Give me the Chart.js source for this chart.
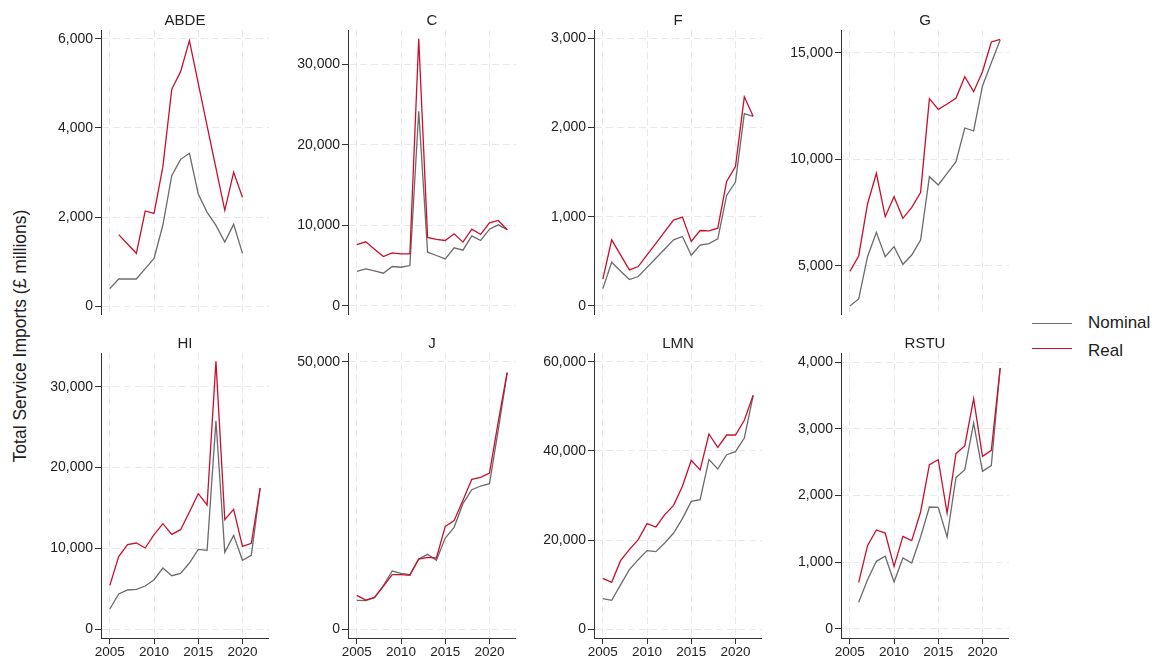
<!DOCTYPE html>
<html><head><meta charset="utf-8">
<script src="https://cdn.jsdelivr.net/npm/chart.js@4/dist/chart.umd.min.js"></script>
<style>
html,body{margin:0;padding:0;background:#fff;width:1158px;height:661px;overflow:hidden;font-family:'Liberation Sans',Arial,sans-serif;}
canvas{position:absolute;}
#ytitle{position:absolute;left:20px;top:336px;transform:translate(-50%,-50%) rotate(-90deg);white-space:nowrap;font-size:17.5px;color:#222;}
.leg{position:absolute;font-size:17px;line-height:20px;color:#222;white-space:nowrap;}
.sw{position:absolute;width:40px;height:1.4px;}
</style></head><body>
<div id="ytitle">Total Service Imports (£ millions)</div>
<div class="sw" style="left:1032px;top:322.5px;background:#6b6b6b"></div>
<div class="leg" style="left:1088px;top:313px">Nominal</div>
<div class="sw" style="left:1032px;top:348px;background:#c8102e"></div>
<div class="leg" style="left:1088px;top:341px">Real</div>
<script>
const years = [2005,2006,2007,2008,2009,2010,2011,2012,2013,2014,2015,2016,2017,2018,2019,2020,2021,2022];
const xTicks = [2005,2010,2015,2020];
const seriesNames = ['Nominal','Real'];
const panelNames = ['ABDE','C','F','G','HI','J','LMN','RSTU'];

const abdeNominal = [390,607,607,607,840,1071,1820,2929,3296,3431,2517,2105,1813,1438,1835,1184,null,null];
const abdeReal    = [null,1603,1393,1184,2135,2082,3131,4869,5266,5963,5000,4050,3100,2150,3004,2442,null,null];
const cNominal    = [4300,4600,4360,4070,4900,4810,5020,24190,6680,6270,5850,7220,6930,8710,8130,9540,10080,9460];
const cReal       = [7630,7970,7050,6140,6600,6470,6470,33190,8510,8260,8130,8960,7930,9540,8880,10330,10620,9460];
const fNominal    = [195,491,393,296,330,433,536,639,742,779,569,682,700,753,1240,1390,2157,2127];
const fReal       = [300,742,573,404,442,572,703,833,963,996,723,846,843,873,1397,1562,2345,2127];
const gNominal    = [3103,3433,5423,6567,5423,5893,5063,5502,6207,9185,8793,9342,9890,11473,11332,13448,14545,15611];
const gReal       = [4734,5455,7900,9342,7304,8245,7226,7743,8433,12853,12351,12602,12868,13887,13182,14122,15517,15643];
const hiNominal   = [2476,4333,4829,4911,5324,6108,7553,6603,6892,8172,9864,9740,25794,9492,11597,8502,9121,17458];
const hiReal      = [5406,8956,10442,10648,10029,11680,13042,11721,12299,14486,16756,15353,33140,13537,14816,10235,10607,17458];
const jNominal    = [5368,5306,5868,8115,10861,10424,10175,13109,13983,12859,17041,19039,23471,26092,26779,27216,37328,47940];
const jReal       = [6305,5431,5930,7990,10175,10175,10050,13109,13421,13296,19226,20287,24095,28027,28402,29213,38889,48065];
const lmnNominal  = [6816,6442,9900,13333,15580,17603,17378,19326,21573,24794,28689,29064,38052,35955,39176,39850,42921,52434];
const lmnReal     = [11386,10487,15356,17828,20075,23670,22921,25693,27790,32060,37903,35730,43820,40824,43596,43596,46891,52509];
const rstuNominal = [null,400,739,1014,1089,704,1064,989,1378,1828,1823,1378,2267,2387,3086,2362,2447,3910];
const rstuReal    = [null,699,1248,1483,1438,939,1388,1323,1753,2462,2537,1738,2627,2747,3451,2587,2677,3910];

const abdeTicks = [0,2000,4000,6000];
const cTicks    = [0,10000,20000,30000];
const fTicks    = [0,1000,2000,3000];
const gTicks    = [5000,10000,15000];
const hiTicks   = [0,10000,20000,30000];
const jTicks    = [0,50000];
const lmnTicks  = [0,20000,40000,60000];
const rstuTicks = [0,1000,2000,3000,4000];

const nominalSeries = [abdeNominal,cNominal,fNominal,gNominal,hiNominal,jNominal,lmnNominal,rstuNominal];
const realSeries    = [abdeReal,cReal,fReal,gReal,hiReal,jReal,lmnReal,rstuReal];
const tickSets      = [abdeTicks,cTicks,fTicks,gTicks,hiTicks,jTicks,lmnTicks,rstuTicks];
const yRanges = [[-202,6202],[-1120,34274],[-101,3094],[2680,16081],[-1114,34173],[-1685,51685],[-2022,62022],[-135,4135]];

const FF = "'Liberation Sans', Arial, sans-serif";
const COLORS = ['#6b6b6b','#c8102e'];
const Y_W = 60, TITLE_H = 20, X_H = 24, PLOT_W = 168, PLOT_H = 285;
const colX = [101,348,594,841];
const rowTop = [30,353];

panelNames.forEach((name,i)=>{
  const r = Math.floor(i/4), c = i%4;
  const bottomRow = r===1;
  const cv = document.createElement('canvas');
  const w = Y_W+PLOT_W, h = TITLE_H+PLOT_H+(bottomRow?X_H:0);
  cv.width = w; cv.height = h;
  cv.style.left = (colX[c]-Y_W)+'px';
  cv.style.top = (rowTop[r]-TITLE_H)+'px';
  cv.style.width = w+'px'; cv.style.height = h+'px';
  document.body.appendChild(cv);
  const sets = [nominalSeries[i], realSeries[i]];
  const ticksY = tickSets[i];
  new Chart(cv,{
    type:'line',
    data:{datasets: sets.map((arr,k)=>({
      label: seriesNames[k],
      data: years.map((yr,j)=>({x:yr,y:arr[j]})),
      borderColor: COLORS[k], backgroundColor: COLORS[k],
      borderWidth:1.3, pointRadius:0, tension:0, spanGaps:false, fill:false,
      order: 1-k
    }))},
    options:{
      responsive:false, animation:false, devicePixelRatio:1,
      layout:{padding:0},
      plugins:{
        legend:{display:false}, tooltip:{enabled:false},
        title:{display:true,text:name,fullSize:false,color:'#222',
          font:{family:FF,size:15,weight:'normal',lineHeight:1.2},padding:{top:2,bottom:0}}
      },
      scales:{
        x:{type:'linear',min:2004,max:2023,
          afterBuildTicks:s=>{s.ticks = xTicks.map(v=>({value:v}));},
          afterFit:s=>{s.height = bottomRow?X_H:0; s.paddingLeft=0; s.paddingRight=0; s.paddingTop=0; s.paddingBottom=0;},
          ticks:{display:bottomRow,callback:v=>String(v),font:{family:FF,size:13.5},color:'#222',padding:0,maxRotation:0,autoSkip:false},
          grid:{color:'#e9e9e9',lineWidth:1,drawTicks:bottomRow,tickLength:6,tickColor:'#333',tickWidth:1,tickBorderDash:[]},
          border:{display:bottomRow,color:'#333',width:1,dash:[7,4]}
        },
        y:{type:'linear',min:yRanges[i][0],max:yRanges[i][1],
          afterBuildTicks:s=>{s.ticks = ticksY.map(v=>({value:v}));},
          afterFit:s=>{s.width = Y_W; s.paddingLeft=0; s.paddingRight=0; s.paddingTop=0; s.paddingBottom=0;},
          ticks:{callback:v=>Number(v).toLocaleString('en-US'),font:{family:FF,size:14},color:'#222',padding:2,autoSkip:false},
          grid:{color:'#e9e9e9',lineWidth:1,drawTicks:true,tickLength:6,tickColor:'#333',tickWidth:1,tickBorderDash:[]},
          border:{display:true,color:'#333',width:1,dash:[7,4]}
        }
      }
    }
  });
});
</script>
</body></html>
